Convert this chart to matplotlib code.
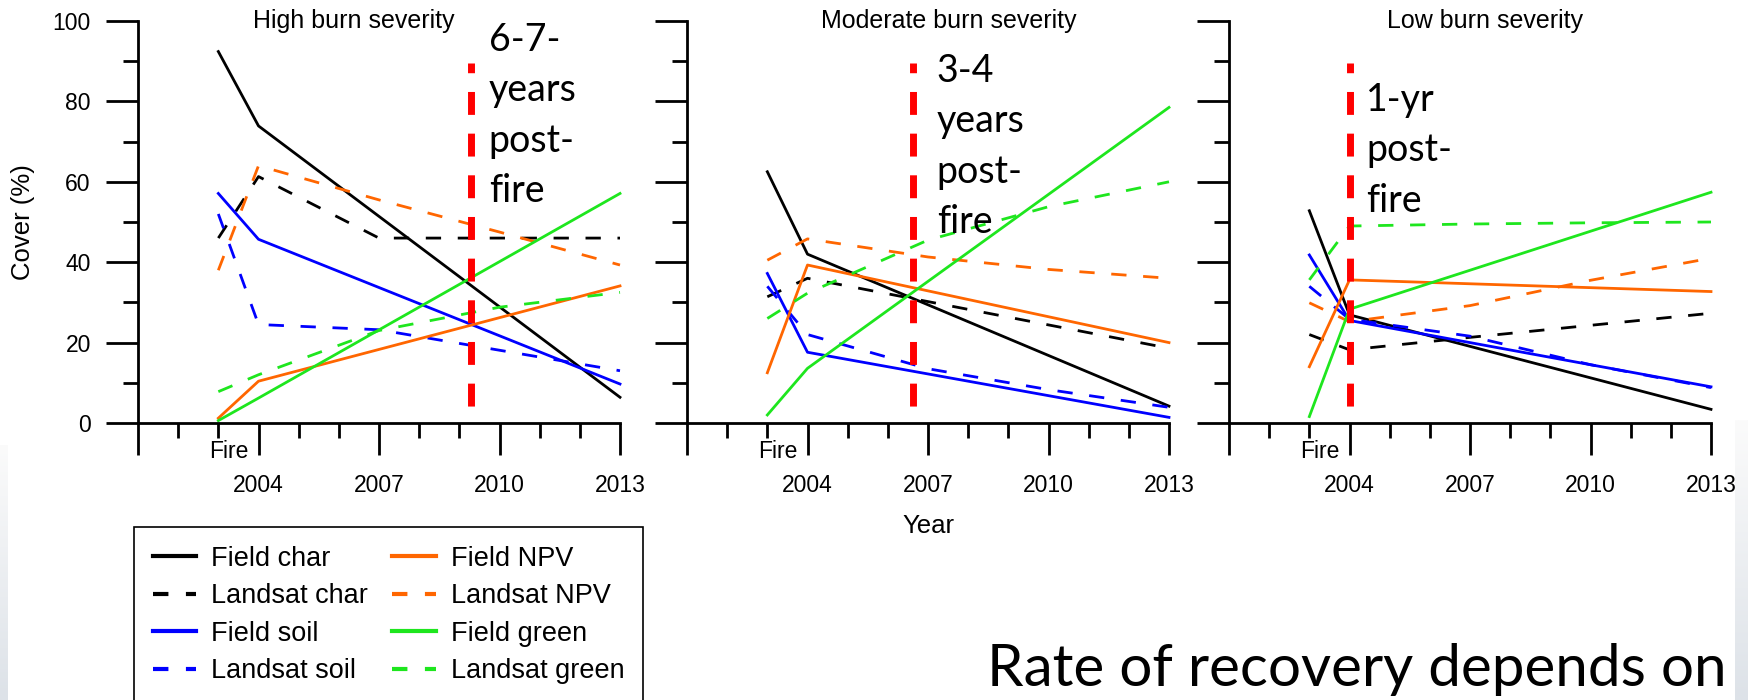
"""Post-fire cover trajectories (field vs Landsat) for three burn severities."""

import matplotlib as mpl
mpl.use("Agg")
import matplotlib.pyplot as plt
import matplotlib.transforms as mtransforms
import numpy as np


FIELD_YEARS = [2003, 2004, 2013]
LANDSAT_YEARS = [2003, 2004, 2007, 2010, 2013]

PANEL_TITLES = ["High burn severity", "Moderate burn severity", "Low burn severity"]

# one row per panel (high, moderate, low)
FIELD_CHAR = [[92.4, 73.9, 6.4], [62.5, 42.0, 4.2], [52.8, 26.9, 3.4]]
FIELD_SOIL = [[57.1, 45.7, 9.7], [37.2, 17.6, 1.4], [41.8, 25.5, 9.0]]
FIELD_NPV = [[1.2, 10.4, 34.1], [12.5, 39.3, 20.0], [14.0, 35.6, 32.7]]
FIELD_GREEN = [[0.6, 6.2, 57.1], [2.0, 13.6, 78.5], [1.6, 28.3, 57.4]]

LANDSAT_CHAR = [[46.0, 61.3, 46.0, 46.0, 46.0],
                [31.4, 36.0, 30.2, 24.4, 18.6],
                [22.0, 18.2, 21.3, 24.3, 27.3]]
LANDSAT_SOIL = [[52.0, 24.5, 23.2, 18.1, 13.0],
                [34.0, 22.0, 13.5, 8.3, 3.9],
                [34.0, 25.8, 21.6, 14.5, 8.8]]
LANDSAT_NPV = [[38.0, 64.0, 55.5, 47.5, 39.3],
               [40.5, 45.8, 41.3, 38.2, 36.0],
               [29.9, 25.2, 29.2, 35.5, 41.0]]
LANDSAT_GREEN = [[7.8, 12.0, 23.0, 28.8, 32.5],
                 [26.0, 32.3, 45.5, 53.8, 60.0],
                 [35.6, 49.0, 49.5, 49.8, 50.0]]

RECOVERY_YEAR = [2009.3, 2006.62, 2004.0]
RECOVERY_TEXT = ["6-7-\nyears\npost-\nfire", "3-4\nyears\npost-\nfire", "1-yr\npost-\nfire"]

W, H = 1749, 700
BLACK, BLUE, ORANGE, GREEN = "black", "#0000ff", "#ff6600", "#1ee61e"


def _edge_strip(fig, x0, y0, x1):
    ax = fig.add_axes([x0 / W, 0, (x1 - x0) / W, 1 - y0 / H], zorder=-5)
    grad = np.linspace(0, 1, 100)[:, None]
    cmap = mpl.colors.LinearSegmentedColormap.from_list("edge", ["#fbfbfb", "#dde2e8"])
    ax.imshow(grad, aspect="auto", cmap=cmap, extent=[0, 1, 0, 1], origin="upper")
    ax.axis("off")


def main() -> None:
    plt.rcParams["font.family"] = ["Liberation Sans", "DejaVu Sans"]

    fig = plt.figure(figsize=(W / 100, H / 100), dpi=100)
    _edge_strip(fig, 0, 445, 8)
    _edge_strip(fig, 1735, 420, W)

    lefts = [138, 687, 1229]
    title_x = [2006.37, 2007.52, 2007.37]
    text_x = [2009.73, 2007.22, 2004.41]
    text_y = [76.5, 68.8, 67.9]

    handles = []
    for i, left in enumerate(lefts):
        ax = fig.add_axes([left / W, 1 - 423 / H, 482 / W, 402 / H])
        series = [
            (FIELD_YEARS, FIELD_CHAR[i], BLACK, "-", "Field char"),
            (LANDSAT_YEARS, LANDSAT_CHAR[i], BLACK, "--", "Landsat char"),
            (FIELD_YEARS, FIELD_SOIL[i], BLUE, "-", "Field soil"),
            (LANDSAT_YEARS, LANDSAT_SOIL[i], BLUE, "--", "Landsat soil"),
            (FIELD_YEARS, FIELD_NPV[i], ORANGE, "-", "Field NPV"),
            (LANDSAT_YEARS, LANDSAT_NPV[i], ORANGE, "--", "Landsat NPV"),
            (FIELD_YEARS, FIELD_GREEN[i], GREEN, "-", "Field green"),
            (LANDSAT_YEARS, LANDSAT_GREEN[i], GREEN, "--", "Landsat green"),
        ]
        for years, values, color, ls, label in series:
            line, = ax.plot(years, values, color=color, lw=2, clip_on=False, label=label)
            if ls == "--":
                line.set_dashes((5.5, 6))
            if i == 0:
                handles.append(line)

        ax.plot([RECOVERY_YEAR[i]] * 2, [89.5, 2.5], color="#ff0000", lw=5,
                linestyle=(1.9, (3.3, 2.7)), solid_capstyle="butt", zorder=5)
        ax.text(text_x[i], text_y[i], RECOVERY_TEXT[i], family=["Lato", "DejaVu Sans"],
                fontsize=27, linespacing=1.5, ha="left", va="center", zorder=6)
        ax.text(title_x[i], 100, PANEL_TITLES[i], fontsize=18, ha="center", va="center")

        ax.set_xlim(2001, 2013)
        ax.set_ylim(0, 100)
        ax.set_xticks([2001, 2004, 2007, 2010, 2013])
        ax.set_xticklabels(["", "2004", "2007", "2010", "2013"])
        ax.set_xticks(range(2001, 2014), minor=True)
        ax.set_yticks(range(0, 101, 20))
        ax.set_yticks(range(10, 100, 20), minor=True)
        if i == 0:
            ax.set_yticklabels([str(v) for v in range(0, 101, 20)])
        else:
            ax.set_yticklabels([])
        for side in ("top", "right"):
            ax.spines[side].set_visible(False)
        for side in ("left", "bottom"):
            ax.spines[side].set_linewidth(2)
        ax.tick_params(which="major", length=23, width=2, labelsize=16.5)
        ax.tick_params(which="minor", length=11, width=2)
        ax.tick_params(axis="x", which="major", pad=14)
        ax.tick_params(axis="y", which="major", pad=11)
        ax.patch.set_alpha(0)

        trans = mtransforms.blended_transform_factory(ax.transData, ax.transAxes)
        ax.text(2003.25, -0.072, "Fire", transform=trans, fontsize=16.5,
                ha="center", va="center")

    fig.text(23 / W, 1 - 222 / H, "Cover (%)", rotation=90, fontsize=18.5,
             ha="center", va="center")
    fig.text(928 / W, 1 - 526 / H, "Year", fontsize=18.5, ha="center", va="center")

    leg = fig.legend(handles=handles, ncol=2, loc="upper left",
                     bbox_to_anchor=(134 / W, 1 - 527 / H), borderaxespad=0,
                     fontsize=19.5, frameon=True, fancybox=False, edgecolor="black",
                     framealpha=1, borderpad=0.7, labelspacing=0.42, handlelength=1.6,
                     handletextpad=0.55, columnspacing=0.9)
    leg.get_frame().set_linewidth(1.2)
    for line in leg.get_lines():
        line.set_linewidth(3)
        if line.get_linestyle() != "-":
            line.set_dashes((3.7, 4.2))

    fig.text(987 / W, 1 - 686 / H, "Rate of recovery depends on",
             family=["Lato", "DejaVu Sans"], fontsize=42, ha="left", va="baseline")

    fig.savefig("out.png", dpi=100)


if __name__ == "__main__":
    main()
